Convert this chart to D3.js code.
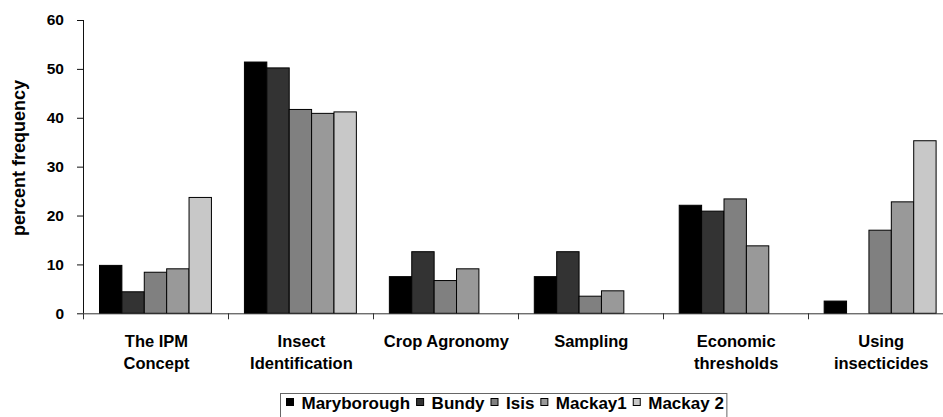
<!DOCTYPE html>
<html lang="en">
  <head>
    <meta charset="utf-8">
    <title>IPM topics - percent frequency</title>
    <script src="https://cdnjs.cloudflare.com/ajax/libs/d3/7.8.5/d3.min.js"></script>
    <style>
      body {
        margin: 0;
        background: #fff;
        font-family: "Liberation Sans", Arial, sans-serif;
      }
      svg text {
        font-weight: bold;
        fill: #000;
      }
    </style>
  </head>
  <body>
    <script type="text/javascript">

    // chart data
    const categories = [
      ["The IPM", "Concept"],
      ["Insect", "Identification"],
      ["Crop Agronomy"],
      ["Sampling"],
      ["Economic", "thresholds"],
      ["Using", "insecticides"]
    ];
    const series = ["Maryborough", "Bundy", "Isis", "Mackay1", "Mackay 2"];
    const maryborough = [9.8, 51.4, 7.5, 7.5, 22.1, 2.5];
    const bundy      = [4.4, 50.2, 12.6, 12.6, 20.9, 0];
    const isis       = [8.4, 41.7, 6.7, 3.5, 23.4, 17.0];
    const mackay1    = [9.1, 40.9, 9.1, 4.6, 13.8, 22.8];
    const mackay2    = [23.7, 41.2, 0, 0, 0, 35.3];
    const yTicks = [0, 10, 20, 30, 40, 50, 60];
    const fills = ["#000000", "#333333", "#808080", "#999999", "#c8c8c8"];

    const values = [maryborough, bundy, isis, mackay1, mackay2];

    const w = 943;
    const h = 417;
    const padL = 83, padR = 952.6, padT = 20, padB = 313.3;

    const svg = d3.select("body")
                  .append("svg")
                  .attr("width", w)
                  .attr("height", h);

    const xScale = d3.scaleBand()
                     .domain(d3.range(categories.length))
                     .range([padL, padR]);

    const inner = d3.scaleBand()
                    .domain(d3.range(series.length))
                    .range([0, xScale.bandwidth()])
                    .paddingOuter(0.737);

    const yScale = d3.scaleLinear()
                     .domain([0, 60])
                     .range([padB, padT]);

    // bars
    const groups = svg.selectAll("g.cat")
       .data(categories)
       .enter()
       .append("g")
       .attr("class", "cat")
       .attr("transform", (d, i) => "translate(" + xScale(i) + ",0)");

    groups.selectAll("rect")
       .data((d, i) => values.map((s, j) => ({ s: j, v: s[i] })).filter(b => b.v > 0))
       .enter()
       .append("rect")
       .attr("x", d => inner(d.s))
       .attr("y", d => yScale(d.v))
       .attr("width", inner.bandwidth())
       .attr("height", d => yScale(0) - yScale(d.v))
       .attr("fill", d => fills[d.s])
       .attr("stroke", "#000")
       .attr("stroke-width", 1);

    // y axis
    const yAxis = d3.axisLeft(yScale)
                    .tickValues(yTicks)
                    .tickSize(6)
                    .tickPadding(13)
                    .tickFormat(d3.format("d"));

    const gy = svg.append("g")
       .attr("transform", "translate(" + padL + ",0)")
       .call(yAxis);
    gy.select(".domain").attr("stroke", "#111").attr("d", "M0.5," + padT + "V" + padB);
    gy.selectAll(".tick line").attr("stroke", "#111");
    gy.selectAll("text")
      .style("font-size", "15.5px")
      .style("font-family", "'Liberation Sans', Arial, sans-serif")
      .style("font-weight", "bold")
      .attr("fill", "#000");

    // x axis with ticks between categories
    const edges = d3.range(categories.length + 1).map(i => padL + i * xScale.step());
    const gx = svg.append("g");
    gx.append("line")
      .attr("x1", padL).attr("x2", padR)
      .attr("y1", padB + 0.5).attr("y2", padB + 0.5)
      .attr("stroke", "#333");
    gx.selectAll("line.t")
      .data(edges)
      .enter()
      .append("line")
      .attr("class", "t")
      .attr("x1", d => Math.round(d) + 0.5).attr("x2", d => Math.round(d) + 0.5)
      .attr("y1", padB).attr("y2", padB + 6)
      .attr("stroke", "#333");

    // category labels
    svg.selectAll("text.cat")
       .data(categories)
       .enter()
       .append("text")
       .attr("class", "cat")
       .attr("text-anchor", "middle")
       .style("font-size", "16.5px")
       .attr("transform", (d, i) => "translate(" + (xScale(i) + xScale.bandwidth() / 2 + 1) + ",347)")
       .selectAll("tspan")
       .data(d => d)
       .enter()
       .append("tspan")
       .attr("x", 0)
       .attr("y", (d, i) => i * 22)
       .text(d => d);

    // y axis title
    svg.append("text")
       .attr("transform", "translate(25,158) rotate(-90)")
       .attr("text-anchor", "middle")
       .style("font-size", "18px")
       .text("percent frequency");

    // legend
    const legend = svg.append("g");
    const box = legend.append("rect")
       .attr("x", 280.5).attr("y", 393.5)
       .attr("height", 40)
       .attr("fill", "#fff")
       .attr("stroke", "#666");

    let lx = 286;
    series.forEach((name, i) => {
      legend.append("rect")
        .attr("x", lx + 0.5).attr("y", 398.5)
        .attr("width", 7).attr("height", 7)
        .attr("fill", fills[i])
        .attr("stroke", "#000");
      const t = legend.append("text")
        .attr("x", lx + 15.5)
        .attr("y", 408.5)
        .style("font-size", "17px")
        .text(name);
      lx = lx + 15.5 + t.node().getComputedTextLength() + 6;
    });
    box.attr("width", lx - 280.5 - 3);

    </script>
  </body>
</html>
